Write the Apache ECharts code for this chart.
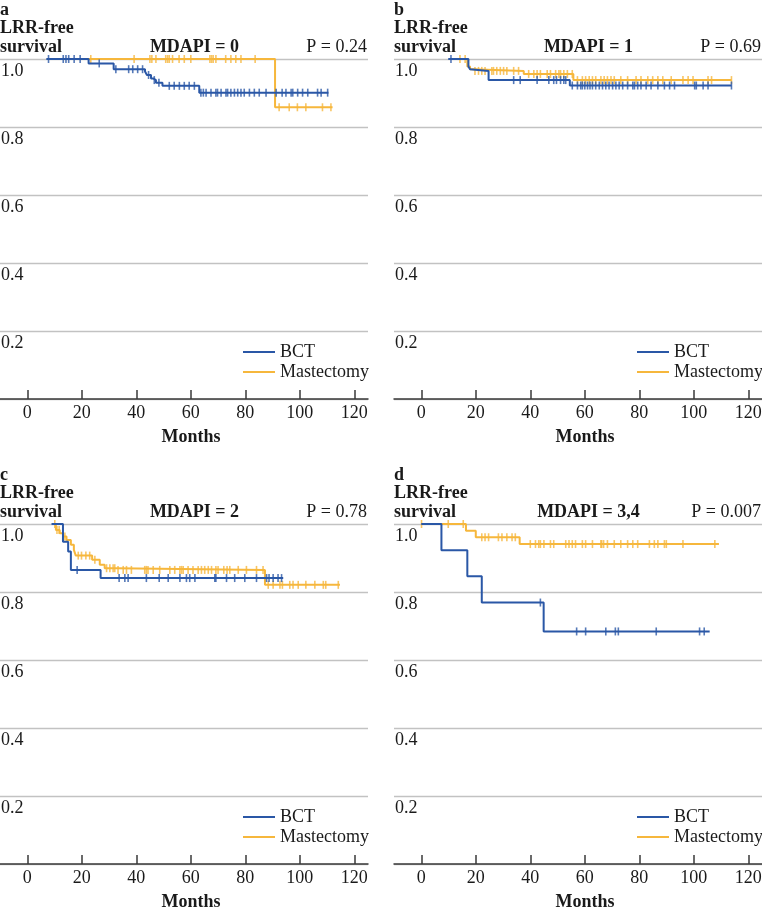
<!DOCTYPE html>
<html>
<head>
<meta charset="utf-8">
<script src="https://cdn.jsdelivr.net/npm/echarts@6/dist/echarts.min.js"></script>
<style>html,body{margin:0;padding:0;background:#fff}#c{width:762px;height:908px}</style>
</head>
<body>
<div id="c"></div>
<script>
// ---------- labels ----------
const groups = ['BCT', 'Mastectomy'];
const panelLetters = ['a', 'b', 'c', 'd'];
const panelTitles = ['MDAPI = 0', 'MDAPI = 1', 'MDAPI = 2', 'MDAPI = 3,4'];
const pValues = ['P = 0.24', 'P = 0.69', 'P = 0.78', 'P = 0.007'];
const yTitle = ['LRR-free', 'survival'];
const xTitle = 'Months';
const xTicks = [0, 20, 40, 60, 80, 100, 120];

// ---------- panel a (MDAPI = 0) ----------
const aBctT = [7, 22.5, 31.7, 43.2, 43.9, 45.4, 46.2, 47.2, 49.6, 63.1, 110.5];
const aBctS = [1, 0.987, 0.970, 0.963, 0.953, 0.943, 0.938, 0.930, 0.921, 0.901, 0.901];
const aBctC = [7.8, 13.2, 14.2, 15.2, 17.2, 19.4, 26.4, 32.5, 37.2, 38.7, 40.5, 42.3, 44.5, 46.6, 48.3,
  52.1, 53.9, 55.8, 57.6, 59.4, 61.3, 63.7, 64.6, 65.6, 67.4, 69.2, 69.8, 71.1, 72.9, 73.5, 74.7, 76.0,
  77.2, 78.4, 79.6, 81.5, 83.3, 85.1, 87.6, 91.3, 93.5, 94.9, 96.8, 97.4, 99.2, 101.0, 102.9, 106.5, 107.8, 110.2];
const aMasT = [8, 90.9, 112];
const aMasS = [1, 0.858, 0.858];
const aMasC = [23.3, 39.2, 45.0, 45.7, 47.2, 50.8, 51.5, 52.1, 53.3, 55.7, 57.6, 60.0, 67.0, 67.6, 68.2, 69.2,
  72.8, 74.7, 76.5, 78.4, 83.6, 92.4, 96.1, 99.1, 102.2, 108.3, 111.4];

// ---------- panel b (MDAPI = 1) ----------
const bBctT = [9.9, 17.3, 17.9, 18.5, 24.7, 54.5, 113.8];
const bBctS = [1, 0.978, 0.970, 0.965, 0.938, 0.922, 0.922];
const bBctC = [10.9, 33.9, 36.3, 42.5, 46.8, 48.6, 49.6, 51.1, 52.3, 53.0, 55.4, 57.3, 58.5, 59.1, 60.0, 61.0,
  61.9, 62.8, 64.0, 65.3, 66.5, 67.7, 68.9, 70.2, 71.4, 72.6, 73.9, 75.7, 77.6, 78.2, 79.4, 80.6, 82.5, 84.3,
  86.8, 89.2, 91.1, 92.9, 100.3, 100.9, 103.4, 105.2, 113.8];
const bMasT = [13, 16.9, 17.9, 18.9, 37.6, 55.8, 113.8];
const bMasS = [1, 0.978, 0.970, 0.965, 0.956, 0.938, 0.938];
const bMasC = [14.2, 16.1, 19.7, 21.0, 22.2, 23.4, 25.9, 26.5, 27.7, 29.0, 30.2, 31.4, 33.9, 35.7, 39.4, 41.3,
  42.5, 43.7, 46.2, 47.4, 49.3, 50.5, 51.1, 52.3, 53.6, 55.4, 57.3, 59.1, 60.3, 61.6, 62.8, 64.0, 65.9, 67.1,
  68.3, 69.6, 70.8, 73.2, 75.7, 78.8, 80.6, 83.1, 84.9, 86.8, 88.6, 91.7, 96.0, 97.9, 99.7, 105.2, 106.5, 113.8];

// ---------- panel c (MDAPI = 2) ----------
const cBctT = [8.9, 13.1, 15.0, 16.0, 26.9, 93.9];
const cBctS = [1, 0.948, 0.919, 0.865, 0.841, 0.841];
const cBctC = [18.3, 33.7, 35.8, 37.0, 43.7, 48.4, 51.7, 56.0, 58.4, 59.6, 61.5, 68.8, 69.2, 73.1, 76.1, 79.8,
  84.1, 87.8, 88.7, 90.2, 92.0, 93.3];
const cMasT = [9.5, 10.5, 11.9, 13.1, 14.4, 16.0, 17.1, 17.8, 23.8, 26.6, 28.4, 32.7, 87.2, 114.7];
const cMasS = [1, 0.982, 0.973, 0.963, 0.953, 0.939, 0.924, 0.907, 0.895, 0.880, 0.870, 0.865, 0.821, 0.821];
const cMasC = [10.1, 10.9, 11.7, 13.8, 18.7, 19.9, 21.5, 22.9, 24.8, 29.1, 30.3, 31.5, 32.1, 33.3, 35.2, 36.4,
  38.2, 43.1, 43.7, 44.3, 46.2, 48.6, 52.3, 54.1, 56.0, 56.6, 57.2, 59.0, 60.8, 62.7, 63.9, 65.1, 66.4, 67.6,
  69.2, 70.0, 72.1, 73.3, 74.3, 77.4, 80.4, 84.1, 86.5, 88.4, 90.2, 92.7, 93.6, 96.3, 97.5, 99.4, 102.2, 105.5,
  108.6, 109.5, 114.1];

// ---------- panel d (MDAPI = 3,4) ----------
const dBctT = [0, 7.4, 16.9, 22.2, 44.9, 105.8];
const dBctS = [1, 0.923, 0.846, 0.769, 0.684, 0.684];
const dBctC = [43.7, 57.0, 60.3, 67.7, 71.2, 72.3, 86.2, 102.1, 103.8];
const dMasT = [0, 16.4, 20.0, 36.1, 109.2];
const dMasS = [1, 0.980, 0.961, 0.941, 0.941];
const dMasC = [0.1, 9.9, 15.4, 22.2, 23.4, 24.7, 28.3, 29.6, 31.4, 33.3, 34.5, 40.0, 41.9, 43.1, 43.7, 45.0,
  47.4, 48.6, 53.0, 54.2, 55.4, 56.6, 59.1, 60.3, 62.8, 65.9, 66.2, 66.9, 68.3, 70.8, 73.2, 75.7, 77.6, 79.4,
  83.7, 85.5, 86.8, 89.2, 89.9, 96.0, 107.7];

// ---------- assembly ----------
const BLUE = '#2a57a6', ORANGE = '#f6b73c', TXT = '#1a1a1a';
const FONT = '"Liberation Serif", "Times New Roman", serif';
const panelData = [
  [[aMasT, aMasS, aMasC], [aBctT, aBctS, aBctC]],
  [[bMasT, bMasS, bMasC], [bBctT, bBctS, bBctC]],
  [[cMasT, cMasS, cMasC], [cBctT, cBctS, cBctC]],
  [[dMasT, dMasS, dMasC], [dBctT, dBctS, dBctC]]
];
const L = [{x: 0, y: 0, w: 368}, {x: 394, y: 0, w: 368}, {x: 0, y: 465, w: 368}, {x: 394, y: 465, w: 368}];

function stepAt(T, S, t) {
  let v = S[0];
  for (let i = 0; i < T.length; i++) { if (T[i] <= t + 1e-9) v = S[i]; }
  return v;
}

const grid = [], xAxis = [], yAxis = [], series = [], legend = [], graphic = [];
L.forEach((p, i) => {
  grid.push({left: p.x, top: 59 + p.y, width: p.w, height: 340, containLabel: false, outerBoundsMode: 'none'});
  xAxis.push({
    type: 'value', gridIndex: i, min: -10, max: 125,
    axisLine: {show: true, onZero: false, lineStyle: {color: '#3a3a3a', width: 1.5}},
    axisTick: {show: true, inside: true, length: 9, customValues: xTicks, lineStyle: {color: '#3a3a3a', width: 1.5}},
    axisLabel: {show: true, customValues: xTicks, margin: 5, fontFamily: FONT, fontSize: 18, color: TXT},
    splitLine: {show: false}
  });
  yAxis.push({
    type: 'value', gridIndex: i, min: 0, max: 1, interval: 0.2,
    axisLine: {show: false}, axisTick: {show: false},
    axisLabel: {
      show: true, inside: true, margin: 1, align: 'left', verticalAlign: 'top', padding: [3, 0, 0, 0],
      fontFamily: FONT, fontSize: 18, color: TXT,
      formatter: v => (v < 0.01 ? '' : v.toFixed(1))
    },
    splitLine: {show: true, lineStyle: {color: '#c2c2c2', width: 1.3}}
  });
  const names = ['Mastectomy', 'BCT'];
  const cols = [ORANGE, BLUE];
  panelData[i].forEach((g, k) => {
    const [T, S, C] = g;
    series.push({
      name: names[k], type: 'line', xAxisIndex: i, yAxisIndex: i, step: 'end',
      showSymbol: false, symbol: 'none', silent: true, z: 2 + k * 2,
      lineStyle: {color: cols[k], width: 2}, itemStyle: {color: cols[k]},
      data: T.map((t, j) => [t, S[j]])
    });
    series.push({
      name: names[k] + ' censored', type: 'scatter', xAxisIndex: i, yAxisIndex: i,
      symbol: 'rect', symbolSize: [1.6, 8], silent: true, z: 3 + k * 2,
      itemStyle: {color: cols[k]},
      data: C.map(t => [t, stepAt(T, S, t)])
    });
  });
  legend.push({
    data: groups, orient: 'vertical', left: p.x + 243, top: 342 + p.y, padding: 0,
    itemGap: 0, itemWidth: 32, itemHeight: 2, icon: 'rect', selectedMode: false,
    textStyle: {fontFamily: FONT, fontSize: 18, color: TXT, lineHeight: 20}
  });
  const bold = 'bold 18px ' + FONT, reg = '18px ' + FONT;
  const t = (text, x, y, font, align) => graphic.push({
    type: 'text', x: x, y: y, silent: true,
    style: {text: text, font: font, fill: TXT, align: align, verticalAlign: 'middle'}
  });
  t(panelLetters[i], p.x, 10 + p.y, bold, 'left');
  t(yTitle[0], p.x, 28 + p.y, bold, 'left');
  t(yTitle[1], p.x, 47 + p.y, bold, 'left');
  t(panelTitles[i], p.x + 194.5, 47 + p.y, bold, 'center');
  t(pValues[i], p.x + p.w - 1, 47 + p.y, reg, 'right');
  t(xTitle, p.x + 191, 437 + p.y, bold, 'center');
});

const chart = echarts.init(document.getElementById('c'), null, {renderer: 'canvas'});
chart.setOption({
  animation: false, backgroundColor: '#fff',
  grid, xAxis, yAxis, series, legend, graphic
});
</script>
</body>
</html>
